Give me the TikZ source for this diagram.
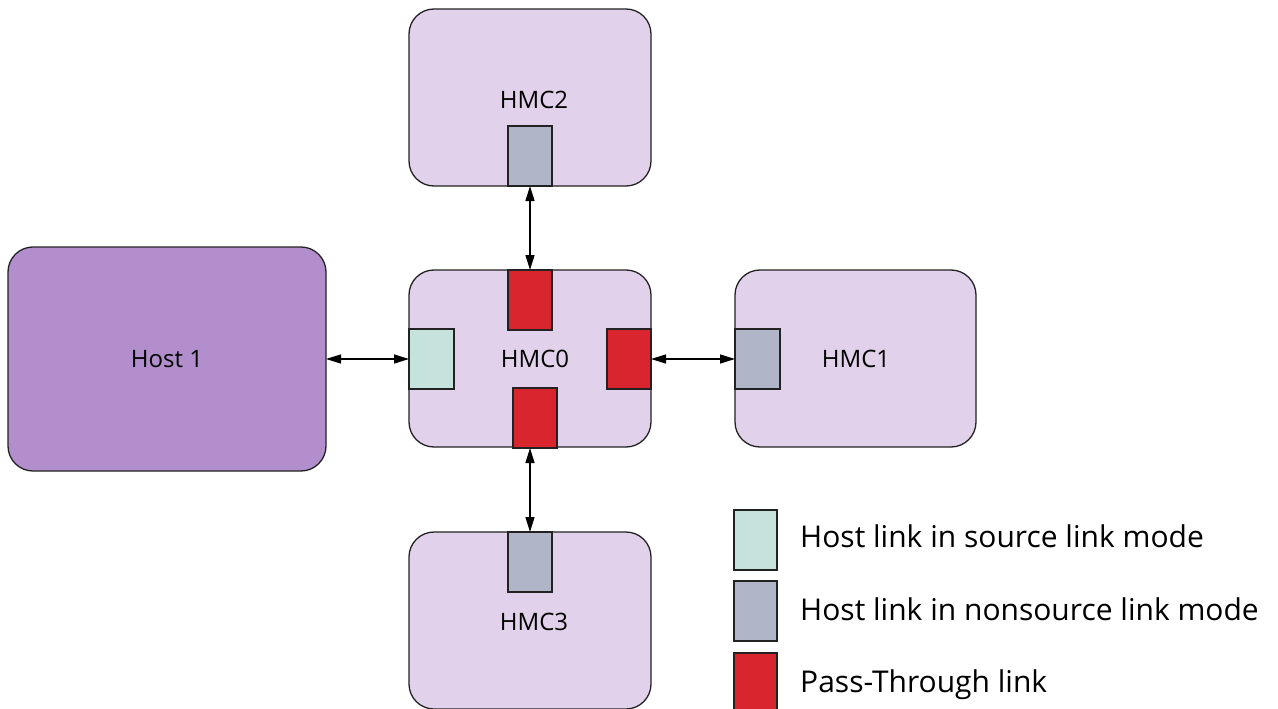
\documentclass[tikz,border=0pt]{standalone}
\usepackage{fontspec}
\setmainfont{Open Sans}
\usetikzlibrary{arrows.meta}
\definecolor{hmcfill}{HTML}{E1D1EA}
\definecolor{hostfill}{HTML}{B28FCC}
\definecolor{srcfill}{HTML}{C6E2DD}
\definecolor{nsrcfill}{HTML}{B0B5C8}
\definecolor{ptfill}{HTML}{D9262E}
\definecolor{edge}{HTML}{222222}
\begin{document}
\begin{tikzpicture}[x=1pt,y=-1pt,
  box/.style={draw=edge, line width=1.3pt, rounded corners=25pt, fill=hmcfill,
    inner sep=0pt, outer sep=0pt, anchor=north west},
  hostbox/.style={box, fill=hostfill},
  port/.style={draw=edge, line width=1.1pt, inner sep=0pt, outer sep=0pt,
    anchor=north west, minimum width=44pt, minimum height=60pt},
  src/.style={port, fill=srcfill},
  nsrc/.style={port, fill=nsrcfill},
  pt/.style={port, fill=ptfill},
  lbl/.style={font=\fontsize{24}{28}\selectfont, inner sep=0pt},
  legtext/.style={font=\fontsize{30}{34}\selectfont, inner sep=0pt, anchor=base west},
  arr/.style={line width=1.4pt, {Triangle[length=15pt,width=9pt]}-{Triangle[length=15pt,width=9pt]}}
]
\useasboundingbox (0,0) rectangle (1278,709);

% boxes
\node[box, minimum width=242pt, minimum height=177pt] (hmc2) at (409,9) {};
\node[box, minimum width=242pt, minimum height=177pt] (hmc0) at (409,270) {};
\node[box, minimum width=241pt, minimum height=177pt] (hmc1) at (735,270) {};
\node[box, minimum width=242pt, minimum height=177pt] (hmc3) at (409,532) {};
\node[hostbox, minimum width=318pt, minimum height=224pt] (host) at (8,247) {};

% labels
\node[lbl] (t2) at (534,100) {HMC2};
\node[lbl] (t0) at (535,359) {HMC0};
\node[lbl] (t1) at (856,359) {HMC1};
\node[lbl] (t3) at (534,622) {HMC3};
\node[lbl] (th) at (167,359) {Host 1};

% ports
\node[nsrc] (p2) at (508,126) {};
\node[pt] (p0t) at (508,270) {};
\node[src, minimum width=45pt] (p0l) at (409,329) {};
\node[pt] (p0r) at (607,329) {};
\node[pt] (p0b) at (513,388) {};
\node[nsrc, minimum width=45pt] (p1) at (735,329) {};
\node[nsrc] (p3) at (508,532) {};

% connectors
\draw[arr] (p2.south) -- (p0t.north);
\draw[arr] (p3.north |- p0b.south) -- (p3.north);
\draw[arr] (host.east) -- (p0l.west);
\draw[arr] (p0r.east) -- (p1.west);

% legend
\node[src, minimum width=43pt] (l1) at (734,510) {};
\node[nsrc, minimum width=43pt] (l2) at (734,581) {};
\node[pt, minimum width=43pt] (l3) at (734,653) {};
\node[legtext] (lt1) at (800,547) {Host link in source link mode};
\node[legtext] (lt2) at (800,620) {Host link in nonsource link mode};
\node[legtext] (lt3) at (800,692) {Pass-Through link};
\end{tikzpicture}
\end{document}
